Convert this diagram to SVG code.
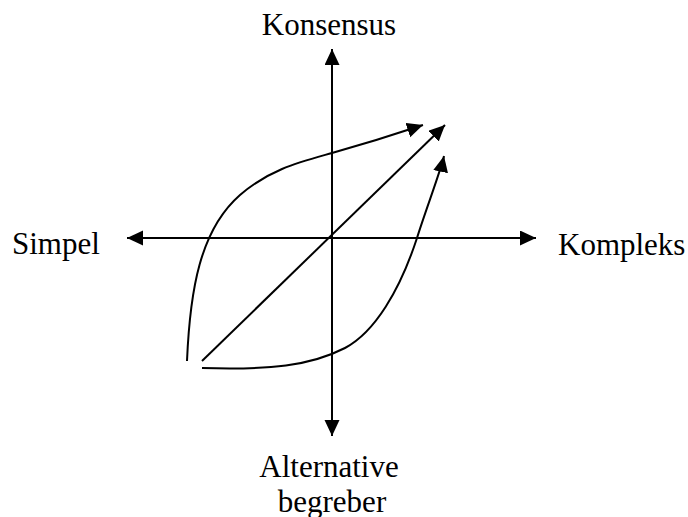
<svg xmlns="http://www.w3.org/2000/svg" width="688" height="517" viewBox="0 0 688 517">
<style>
.lbl{font-family:"Liberation Serif","Times New Roman",serif;font-size:31px;fill:#000}
.ln{fill:none;stroke:#000;stroke-width:2}
</style>
<defs>
<marker id="ah" markerUnits="userSpaceOnUse" markerWidth="17" markerHeight="16" refX="16" refY="7.5" orient="auto-start-reverse" viewBox="0 0 17 16">
<path d="M0,0 L16,7.5 L0,15 z" fill="#000"/>
</marker>
</defs>
<rect width="688" height="517" fill="#fff"/>
<g id="connectors">
<path class="ln" d="M332,436 L332,49" marker-start="url(#ah)" marker-end="url(#ah)"/>
<path class="ln" d="M127,238 L536,238" marker-start="url(#ah)" marker-end="url(#ah)"/>
<path class="ln" d="M187,361 C190,290 200,230 240,195 C270,169 300,162 332,153 C364,144 405,131 423,125" marker-end="url(#ah)"/>
<path class="ln" d="M202,361 L445,125" marker-end="url(#ah)"/>
<path class="ln" d="M202,368 C270,370 310,366 345,348 C375,332 400,290 417,238 C425,212 441,170 444,156" marker-end="url(#ah)"/>
</g>
<g id="konsensus"><text class="lbl" x="329" y="35" text-anchor="middle">Konsensus</text></g>
<g id="simpel"><text class="lbl" x="12" y="254">Simpel</text></g>
<g id="kompleks"><text class="lbl" x="558" y="255">Kompleks</text></g>
<g id="alternative"><text class="lbl" x="329" y="477" text-anchor="middle">Alternative</text><text class="lbl" x="332" y="512" text-anchor="middle">begreber</text></g>
</svg>
